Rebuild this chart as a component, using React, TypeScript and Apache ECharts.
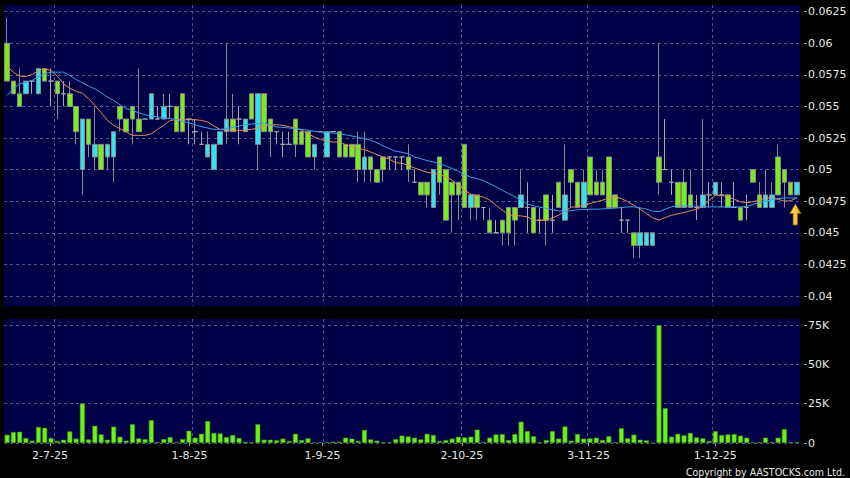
import { useEffect, useRef } from "react";
import * as echarts from "echarts";

// Trading days (D) per month, 2025
const JUN = [20, 23, 24, 25, 26, 27, 30];
const JUL = [2, 3, 4, 7, 8, 9, 10, 11, 14, 15, 16, 17, 18, 21, 22, 23, 24, 25, 28, 29, 30, 31];
const AUG = [1, 4, 5, 6, 7, 8, 11, 12, 13, 14, 15, 18, 19, 20, 21, 22, 25, 26, 27, 28, 29];
const SEP = [1, 2, 3, 4, 5, 8, 9, 10, 11, 12, 15, 16, 17, 18, 19, 22, 23, 24, 25, 26, 29, 30];
const OCT = [2, 3, 6, 8, 9, 10, 13, 14, 15, 16, 17, 20, 21, 22, 23, 24, 27, 28, 30, 31];
const NOV = [3, 4, 5, 6, 7, 10, 11, 12, 13, 14, 17, 18, 19, 20, 21, 24, 25, 26, 27, 28];
const DEC = [1, 2, 3, 4, 5, 8, 9, 10, 11, 12, 15, 16, 17, 18, 19];
const MONTHS: [number, number[]][] = [[6, JUN], [7, JUL], [8, AUG], [9, SEP], [10, OCT], [11, NOV], [12, DEC]];

// [open, close, low, high]
const OHLC: number[][] = [
  [0.060, 0.057, 0.057, 0.062], [0.057, 0.056, 0.056, 0.057], [0.056, 0.055, 0.055, 0.058], [0.056, 0.057, 0.056, 0.057],
  [0.057, 0.057, 0.056, 0.057], [0.056, 0.058, 0.056, 0.058], [0.058, 0.057, 0.057, 0.058], [0.057, 0.057, 0.055, 0.058],
  [0.057, 0.056, 0.054, 0.057], [0.056, 0.056, 0.055, 0.057], [0.056, 0.055, 0.055, 0.057], [0.055, 0.053, 0.052, 0.055],
  [0.050, 0.054, 0.048, 0.054], [0.054, 0.052, 0.051, 0.054], [0.051, 0.052, 0.050, 0.055], [0.052, 0.050, 0.050, 0.052],
  [0.051, 0.052, 0.050, 0.052], [0.051, 0.053, 0.049, 0.053], [0.055, 0.054, 0.053, 0.055], [0.054, 0.053, 0.053, 0.054],
  [0.055, 0.054, 0.052, 0.055], [0.054, 0.053, 0.053, 0.058], [0.054, 0.054, 0.054, 0.054], [0.054, 0.056, 0.054, 0.056],
  [0.054, 0.054, 0.054, 0.055], [0.054, 0.055, 0.054, 0.056], [0.055, 0.055, 0.054, 0.056], [0.055, 0.053, 0.053, 0.055],
  [0.056, 0.053, 0.053, 0.056], [0.054, 0.054, 0.052, 0.054], [0.053, 0.053, 0.052, 0.054], [0.052, 0.052, 0.052, 0.053],
  [0.051, 0.052, 0.051, 0.053], [0.050, 0.052, 0.050, 0.052], [0.052, 0.053, 0.052, 0.053], [0.053, 0.054, 0.052, 0.060],
  [0.054, 0.053, 0.053, 0.056], [0.054, 0.054, 0.052, 0.055], [0.053, 0.054, 0.053, 0.054], [0.056, 0.054, 0.054, 0.056],
  [0.052, 0.056, 0.050, 0.056], [0.056, 0.053, 0.053, 0.056], [0.054, 0.053, 0.051, 0.054], [0.053, 0.053, 0.052, 0.053],
  [0.052, 0.052, 0.051, 0.053], [0.052, 0.052, 0.052, 0.053], [0.054, 0.052, 0.051, 0.054], [0.053, 0.052, 0.052, 0.053],
  [0.053, 0.051, 0.051, 0.053], [0.051, 0.052, 0.050, 0.052], [0.053, 0.053, 0.053, 0.053], [0.051, 0.053, 0.051, 0.053],
  [0.053, 0.053, 0.053, 0.053], [0.053, 0.051, 0.051, 0.053], [0.052, 0.051, 0.051, 0.052], [0.052, 0.051, 0.051, 0.052],
  [0.052, 0.050, 0.049, 0.053], [0.050, 0.051, 0.049, 0.053], [0.051, 0.050, 0.049, 0.051], [0.050, 0.049, 0.049, 0.050],
  [0.051, 0.050, 0.049, 0.051], [0.051, 0.051, 0.050, 0.051], [0.051, 0.051, 0.050, 0.051], [0.051, 0.051, 0.050, 0.051],
  [0.051, 0.050, 0.049, 0.052], [0.049, 0.049, 0.049, 0.050], [0.049, 0.048, 0.048, 0.049], [0.049, 0.048, 0.047, 0.049],
  [0.047, 0.050, 0.047, 0.050], [0.051, 0.049, 0.048, 0.051], [0.050, 0.046, 0.046, 0.050], [0.049, 0.048, 0.045, 0.049],
  [0.049, 0.048, 0.046, 0.049], [0.052, 0.047, 0.047, 0.052], [0.047, 0.048, 0.046, 0.048], [0.048, 0.047, 0.046, 0.048],
  [0.047, 0.047, 0.046, 0.047], [0.046, 0.045, 0.045, 0.047], [0.045, 0.045, 0.045, 0.046], [0.046, 0.045, 0.044, 0.046],
  [0.047, 0.045, 0.044, 0.047], [0.047, 0.046, 0.044, 0.047], [0.047, 0.048, 0.047, 0.050], [0.047, 0.047, 0.045, 0.049],
  [0.047, 0.045, 0.045, 0.047], [0.046, 0.046, 0.045, 0.047], [0.048, 0.046, 0.044, 0.048], [0.046, 0.046, 0.045, 0.048],
  [0.049, 0.047, 0.047, 0.049], [0.046, 0.048, 0.046, 0.052], [0.050, 0.049, 0.047, 0.050], [0.049, 0.047, 0.047, 0.049],
  [0.047, 0.049, 0.047, 0.050], [0.051, 0.048, 0.048, 0.051], [0.049, 0.048, 0.048, 0.050], [0.049, 0.048, 0.048, 0.050],
  [0.051, 0.047, 0.047, 0.051], [0.048, 0.047, 0.047, 0.048], [0.046, 0.046, 0.045, 0.047], [0.046, 0.046, 0.045, 0.046],
  [0.045, 0.044, 0.043, 0.045], [0.044, 0.045, 0.043, 0.047], [0.044, 0.045, 0.044, 0.045], [0.044, 0.045, 0.044, 0.045],
  [0.051, 0.049, 0.048, 0.060], [0.050, 0.050, 0.050, 0.054], [0.049, 0.049, 0.048, 0.050], [0.049, 0.047, 0.047, 0.049],
  [0.049, 0.047, 0.047, 0.050], [0.048, 0.047, 0.047, 0.050], [0.047, 0.047, 0.046, 0.048], [0.047, 0.048, 0.047, 0.054],
  [0.048, 0.048, 0.047, 0.049], [0.048, 0.049, 0.048, 0.049], [0.048, 0.048, 0.047, 0.049], [0.048, 0.047, 0.047, 0.048],
  [0.047, 0.047, 0.047, 0.049], [0.047, 0.046, 0.046, 0.047], [0.047, 0.047, 0.046, 0.048], [0.050, 0.049, 0.049, 0.050],
  [0.048, 0.047, 0.047, 0.049], [0.047, 0.048, 0.047, 0.050], [0.047, 0.048, 0.047, 0.049], [0.051, 0.048, 0.048, 0.052],
  [0.050, 0.049, 0.047, 0.050], [0.049, 0.048, 0.048, 0.049], [0.048, 0.049, 0.048, 0.049],
];

// Volume in thousands of shares
const VOLUME_K = [
  5.3, 7, 7.2, 3.2, 1.5, 10.2, 9.7, 3.2, 1.3, 2.1,
  7.4, 2.8, 25.2, 2.3, 11, 5.5, 2.1, 10.4, 4, 1.5,
  12, 3, 2.5, 14.6, 0.6, 2.5, 3.8, 0.6, 2.5, 7.8,
  3.4, 5.9, 14, 6.4, 6.1, 3.8, 5.1, 3.2, 0.8, 0.5,
  11.9, 2.1, 2.1, 1.7, 2.8, 1.3, 5.9, 1.9, 3, 0.4,
  0.4, 0.4, 0.8, 0.8, 3.4, 2.8, 1.3, 8.3, 2.3, 1.5,
  0.6, 0.4, 2.5, 4.7, 4.2, 3.4, 2.3, 5.9, 5.1, 1.3,
  1.9, 2.8, 4, 3.6, 4, 8.5, 0.6, 3.4, 5.5, 5.7,
  1.9, 5.7, 13.6, 7.6, 4.4, 0.6, 1.9, 7.6, 2.8, 10.6,
  1.5, 5.7, 2.8, 3, 3.4, 1.9, 4.4, 0.5, 9.5, 3,
  5.3, 2.1, 1.7, 0, 75, 22.2, 4, 5.9, 4.9, 6.4,
  3.6, 3, 1.3, 7.6, 5.1, 5.5, 5.7, 4.7, 3.4, 0.5,
  0.6, 3.4, 0.6, 3.4, 8.9, 0.6, 0.6,
];

// Moving averages
const MA_ORANGE = [
  0.05816, 0.05771, 0.05739, 0.05737, 0.05753, 0.05782, 0.05797, 0.05784, 0.05739, 0.05679,
  0.05645, 0.05618, 0.05605, 0.05561, 0.05508, 0.05450, 0.05389, 0.05350, 0.05324, 0.05297,
  0.05271, 0.05271, 0.05271, 0.05284, 0.05318, 0.05350, 0.05389, 0.05395, 0.05395, 0.05395,
  0.05395, 0.05389, 0.05376, 0.05345, 0.05318, 0.05311, 0.05311, 0.05311, 0.05311, 0.05318,
  0.05329, 0.05345, 0.05355, 0.05355, 0.05350, 0.05339, 0.05329, 0.05311, 0.05284, 0.05258,
  0.05239, 0.05224, 0.05218, 0.05218, 0.05197, 0.05179, 0.05166, 0.05158, 0.05139, 0.05118,
  0.05100, 0.05082, 0.05055, 0.05050, 0.05034, 0.05013, 0.04995, 0.04979, 0.04971, 0.04961,
  0.04942, 0.04916, 0.04876, 0.04837, 0.04805, 0.04792, 0.04782, 0.04758, 0.04718, 0.04679,
  0.04645, 0.04634, 0.04634, 0.04626, 0.04600, 0.04597, 0.04597, 0.04618, 0.04639, 0.04671,
  0.04703, 0.04708, 0.04718, 0.04732, 0.04745, 0.04758, 0.04776, 0.04784, 0.04771, 0.04745,
  0.04718, 0.04687, 0.04653, 0.04618, 0.04600, 0.04621, 0.04639, 0.04650, 0.04661, 0.04674,
  0.04687, 0.04708, 0.04758, 0.04797, 0.04797, 0.04787, 0.04766, 0.04745, 0.04739, 0.04745,
  0.04758, 0.04776, 0.04776, 0.04766, 0.04750, 0.04755, 0.04776,
];
const MA_BLUE = [
  0.05587, 0.05639, 0.05679, 0.05687, 0.05705, 0.05739, 0.05758, 0.05771, 0.05771, 0.05771,
  0.05745, 0.05713, 0.05687, 0.05661, 0.05639, 0.05608, 0.05574, 0.05547, 0.05513, 0.05482,
  0.05468, 0.05450, 0.05434, 0.05424, 0.05416, 0.05411, 0.05403, 0.05395, 0.05382, 0.05371,
  0.05355, 0.05339, 0.05329, 0.05318, 0.05318, 0.05324, 0.05334, 0.05345, 0.05355, 0.05361,
  0.05363, 0.05368, 0.05355, 0.05337, 0.05334, 0.05329, 0.05324, 0.05318, 0.05311, 0.05303,
  0.05297, 0.05292, 0.05289, 0.05284, 0.05276, 0.05266, 0.05255, 0.05245, 0.05232, 0.05213,
  0.05187, 0.05166, 0.05145, 0.05137, 0.05126, 0.05100, 0.05087, 0.05071, 0.05061, 0.05045,
  0.05029, 0.05008, 0.04987, 0.04961, 0.04939, 0.04929, 0.04913, 0.04889, 0.04863, 0.04837,
  0.04811, 0.04784, 0.04758, 0.04729, 0.04713, 0.04703, 0.04692, 0.04682, 0.04674, 0.04668,
  0.04676, 0.04682, 0.04684, 0.04687, 0.04687, 0.04689, 0.04692, 0.04695, 0.04700, 0.04705,
  0.04705, 0.04697, 0.04687, 0.04671, 0.04666, 0.04687, 0.04705, 0.04713, 0.04713, 0.04711,
  0.04711, 0.04708, 0.04705, 0.04705, 0.04705, 0.04705, 0.04705, 0.04705, 0.04708, 0.04724,
  0.04739, 0.04750, 0.04761, 0.04771, 0.04776, 0.04776, 0.04776,
];

const PRICE_MIN = 0.04;
const PRICE_MAX = 0.0625;
const PRICE_STEP = 0.0025;
const VOL_MIN = 0;
const VOL_MAX = 75000;
const VOL_STEP = 25000;

const NAVY = "#000046";
const GRIDLINE = "#55557e";
const TXT = "#e6e6e6";
const TICK = "#a0a0a0";
const GREEN = "#78ee16";
const CYAN = "#30e4f2";
const FONT = "DejaVu Sans";

export default function App() {
  const ref = useRef<HTMLDivElement>(null);
  useEffect(() => {
    if (!ref.current) return;
    const chart = echarts.init(ref.current, null, { renderer: "svg" });

    const dates: string[] = [];
    const monthOf: number[] = [];
    MONTHS.forEach(([m, ds]) => ds.forEach((d) => { dates.push(`${d}-${m}-25`); monthOf.push(m); }));
    const N = dates.length;
    const labelIdx = dates.map((_, i) => i).filter((i) => i > 0 && monthOf[i] !== monthOf[i - 1]);
    const boundaries = labelIdx.map((i) => i + 0.5);

    const frameX = (gridIndex: number) => ({
      gridIndex, type: "value", min: -0.5, max: N - 0.5,
      axisLine: { show: false }, axisLabel: { show: false },
      axisTick: { show: false, customValues: boundaries },
      splitLine: { show: true, lineStyle: { color: GRIDLINE, type: [3, 3], width: 1 } },
    });

    chart.setOption({
      animation: false,
      backgroundColor: "#000000",
      textStyle: { fontFamily: FONT },
      grid: [
        { left: 4, top: 5, width: 796, height: 301, show: true, backgroundColor: NAVY, borderWidth: 0 },
        { left: 4, top: 11.6, width: 796, height: 284.4 },
        { left: 4, top: 319, width: 796, height: 124, show: true, backgroundColor: NAVY, borderWidth: 0 },
        { left: 4, top: 325.2, width: 796, height: 117.8 },
        { left: 2.5, top: 319, width: 804.7, height: 124 },
      ],
      xAxis: [
        frameX(0),
        { gridIndex: 1, type: "category", data: dates, boundaryGap: true, show: false },
        frameX(2),
        { gridIndex: 3, type: "category", data: dates, boundaryGap: true, show: false },
        {
          gridIndex: 4, type: "value", min: -0.5, max: N - 0.5, offset: 4,
          axisLine: { show: false }, splitLine: { show: false },
          axisTick: { show: true, customValues: labelIdx, length: 3, lineStyle: { color: TICK } },
          axisLabel: {
            customValues: labelIdx, color: TXT, fontSize: 11, fontFamily: FONT, margin: 3,
            formatter: (v: number) => dates[Math.round(v)] ?? "",
          },
        },
      ],
      yAxis: [
        { gridIndex: 0, type: "value", min: 0, max: 1, show: false },
        {
          gridIndex: 1, type: "value", position: "right", min: PRICE_MIN, max: PRICE_MAX, interval: PRICE_STEP, offset: 4,
          axisLine: { show: false },
          axisTick: { show: true, length: 3, lineStyle: { color: TICK } },
          axisLabel: { color: TXT, fontSize: 11, fontFamily: FONT, margin: 4, formatter: (v: number) => String(+v.toFixed(4)) },
          splitLine: { show: true, lineStyle: { color: GRIDLINE, type: [3, 3], width: 1 } },
        },
        { gridIndex: 2, type: "value", min: 0, max: 1, show: false },
        {
          gridIndex: 3, type: "value", position: "right", min: VOL_MIN, max: VOL_MAX, interval: VOL_STEP, offset: 4,
          axisLine: { show: false },
          axisTick: { show: true, length: 3, lineStyle: { color: TICK } },
          axisLabel: { color: TXT, fontSize: 11, fontFamily: FONT, margin: 4, formatter: (v: number) => (v === 0 ? "0" : `${v / 1000}K`) },
          splitLine: { show: true, lineStyle: { color: GRIDLINE, type: [3, 3], width: 1 } },
        },
        { gridIndex: 4, type: "value", min: 0, max: 1, show: false },
      ],
      series: [
        {
          type: "candlestick", xAxisIndex: 1, yAxisIndex: 1, data: OHLC, barWidth: 5,
          itemStyle: {
            color: CYAN, color0: GREEN, borderColor: "#8a8a8a", borderColor0: "#8a8a8a",
            borderColorDoji: "#a8a8a8", borderWidth: 1,
          },
        },
        {
          type: "line", xAxisIndex: 1, yAxisIndex: 1, data: MA_ORANGE, showSymbol: false, symbol: "none",
          lineStyle: { color: "#e38c55", width: 1 }, z: 3,
        },
        {
          type: "line", xAxisIndex: 1, yAxisIndex: 1, data: MA_BLUE, showSymbol: false, symbol: "none",
          lineStyle: { color: "#3a9fe8", width: 1 }, z: 3,
        },
        {
          type: "bar", xAxisIndex: 3, yAxisIndex: 3, data: VOLUME_K.map((v) => v * 1000), barWidth: 5,
          itemStyle: { color: "#6cf01a", borderColor: "#3d8c10", borderWidth: 0.6 },
        },
      ],
    });

    const last = N - 1;
    const p = chart.convertToPixel({ xAxisIndex: 1, yAxisIndex: 1 }, [last, OHLC[last][2]]) as number[];
    const cx = p[0] - 1.5;
    const ty = p[1] + 9;
    chart.setOption({
      graphic: [
        {
          type: "polygon", z: 100,
          shape: {
            points: [
              [cx, ty], [cx + 5.5, ty + 9.5], [cx + 2.2, ty + 9.5], [cx + 2.2, ty + 21],
              [cx - 2.2, ty + 21], [cx - 2.2, ty + 9.5], [cx - 5.5, ty + 9.5],
            ],
          },
          style: {
            fill: new echarts.graphic.LinearGradient(0, 0, 1, 0, [
              { offset: 0, color: "#fff27a" }, { offset: 1, color: "#f0a400" },
            ]),
            stroke: "#a86800", lineWidth: 0.8,
          },
        },
        {
          type: "text", z: 100, x: 845, y: 472,
          style: {
            text: "Copyright by AASTOCKS.com Ltd.", fill: TXT, fontSize: 10.5,
            fontFamily: "'DejaVu Sans Condensed', 'DejaVu Sans'", align: "right", verticalAlign: "middle",
          },
        },
      ],
    });

    return () => chart.dispose();
  }, []);
  return <div ref={ref} style={{ position: "fixed", left: 0, top: 0, width: 850, height: 478 }} />;
}
